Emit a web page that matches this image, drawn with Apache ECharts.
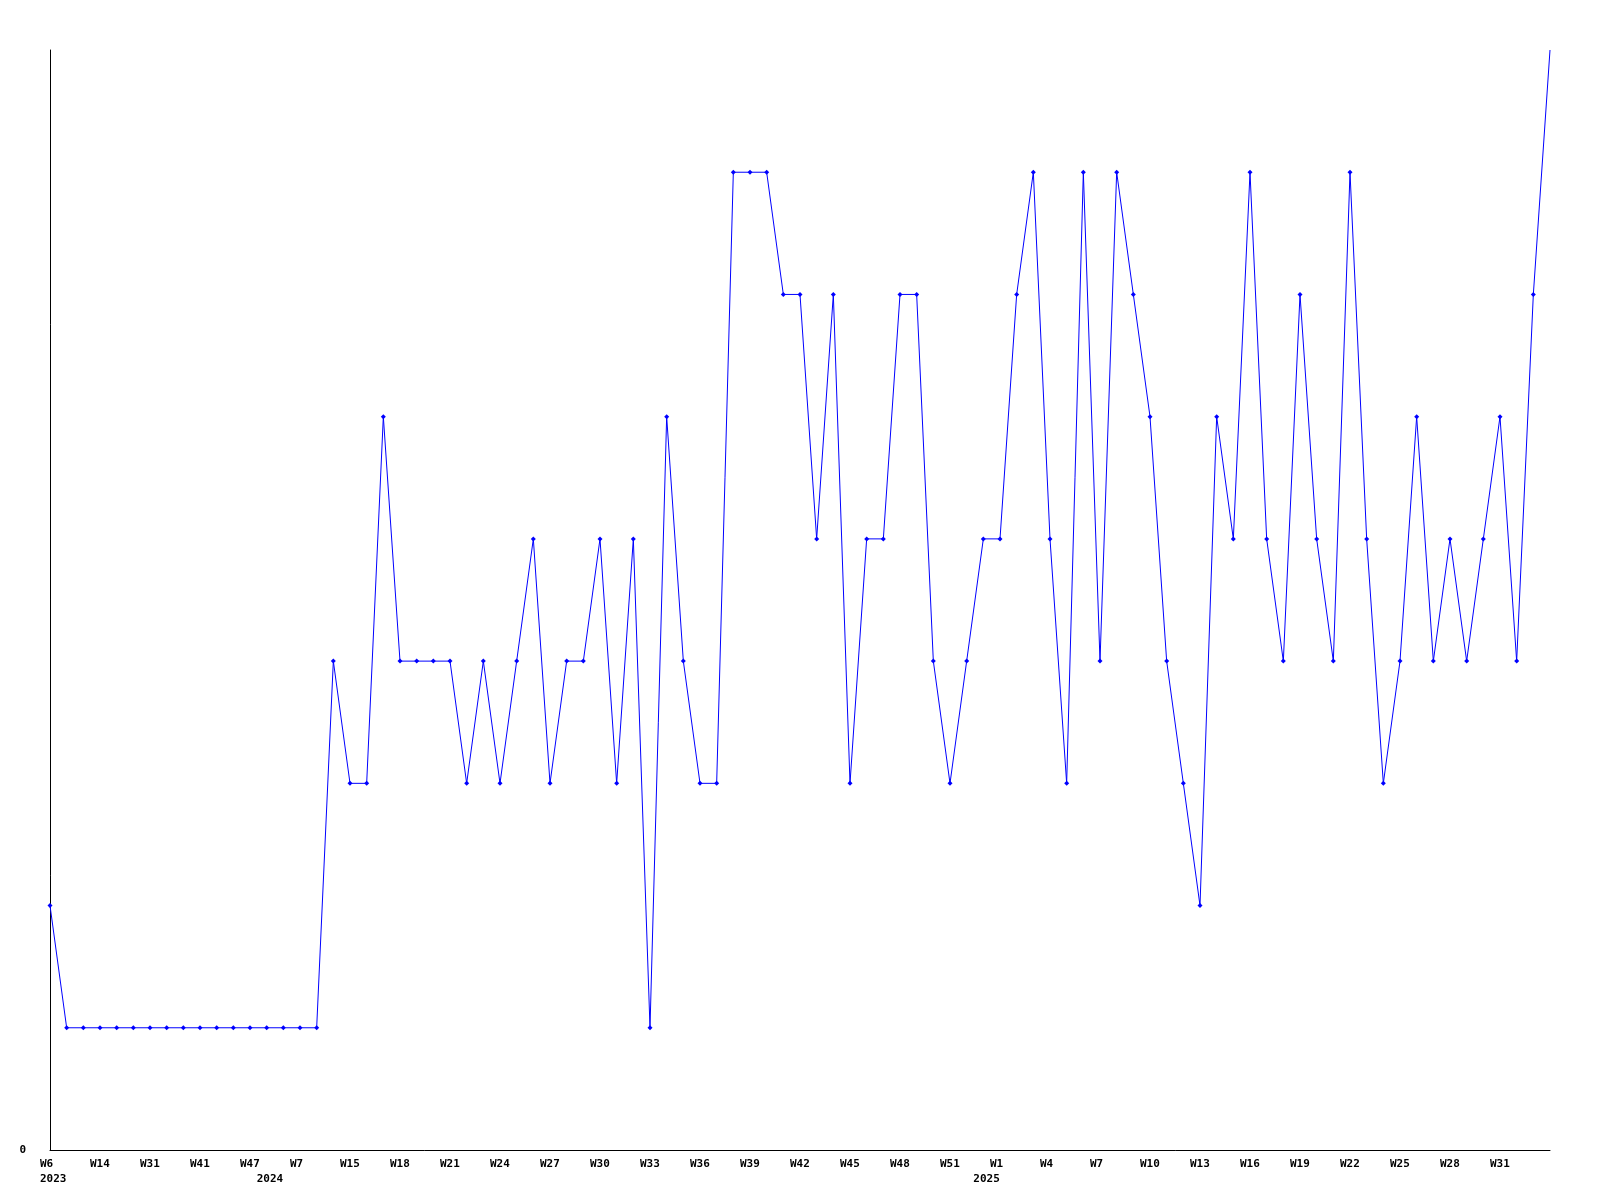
<!DOCTYPE html>
<html>
<head>
<meta charset="utf-8">
<script src="https://cdn.jsdelivr.net/npm/echarts@6/dist/echarts.min.js"></script>
<style>html,body{margin:0;padding:0;background:#fff;}#c{width:1600px;height:1200px;}</style>
</head>
<body>
<div id="c"></div>
<script>
// Series values (one per week point)
const values = [
  2, 1, 1, 1, 1, 1, 1, 1, 1, 1, 1, 1, 1, 1, 1, 1, 1,
  4, 3, 3, 6, 4, 4, 4, 4, 3, 4, 3, 4, 5, 3, 4, 4, 5, 3, 5, 1, 6, 4, 3, 3,
  8, 8, 8, 7, 7, 5, 7, 3, 5, 5, 7, 7, 4, 3, 4, 5, 5, 7, 8, 5, 3, 8, 4, 8,
  7, 6, 4, 3, 2, 6, 5, 8, 5, 4, 7, 5, 4, 8, 5, 3, 4, 6, 4, 5, 4, 5, 6, 4, 7, 9
];
// Week tick labels, shown every 3rd point
const weekLabels = ["W6","W14","W31","W41","W47","W7","W15","W18","W21","W24","W27","W30",
  "W33","W36","W39","W42","W45","W48","W51","W1","W4","W7","W10","W13","W16","W19",
  "W22","W25","W28","W31"];
// Year labels and the point index they sit under
const yearLabels = ["2023","2024","2025"];
const yearIndex = [0, 13, 56];

const n = values.length;
const cats = values.map((v, i) => String(i));
const labelCats = values.map((v, i) => {
  const w = (i % 3 === 0 && weekLabels[i / 3] !== undefined) ? weekLabels[i / 3] : "";
  const yi = yearIndex.indexOf(i);
  const y = yi >= 0 ? yearLabels[yi] : "";
  return y ? (w + "\n" + y) : w;
});
// last point's marker is clipped at the top edge in the original
const seriesData = values.map((v, i) => (i === n - 1 ? {value: v, symbol: "none"} : v));

const font = {fontFamily: "DejaVu Sans Mono", fontWeight: "bold", fontSize: 11, color: "#000"};

const chart = echarts.init(document.getElementById('c'), null, {renderer: 'canvas'});
chart.setOption({
  animation: false,
  backgroundColor: "#fff",
  grid: [
    {left: 50, right: 50, top: 50, bottom: 50},
    {left: 40, right: 60, top: 50, bottom: 50}
  ],
  xAxis: [
    {
      type: "category", gridIndex: 0, data: cats, boundaryGap: false,
      axisLine: {show: true, lineStyle: {color: "#000", width: 1}},
      axisTick: {show: false}, axisLabel: {show: false}, splitLine: {show: false}
    },
    {
      type: "category", gridIndex: 1, data: labelCats, boundaryGap: false,
      axisLine: {show: false}, axisTick: {show: false}, splitLine: {show: false},
      axisLabel: Object.assign({interval: 0, align: "left", margin: 7, lineHeight: 14.5, verticalAlign: "top"}, font)
    }
  ],
  yAxis: [
    {
      type: "value", gridIndex: 0, min: 0, max: 9, interval: 9,
      axisLine: {show: true, lineStyle: {color: "#000", width: 1}},
      axisTick: {show: false}, splitLine: {show: false},
      axisLabel: Object.assign({margin: 24, showMaxLabel: false,
        formatter: v => (v === 0 ? "0" : "")}, font)
    },
    {type: "value", gridIndex: 1, min: 0, max: 9, show: false}
  ],
  series: [{
    type: "line", xAxisIndex: 0, yAxisIndex: 0, data: seriesData,
    symbol: "diamond", symbolSize: 5, showSymbol: true,
    lineStyle: {color: "#0000ff", width: 1},
    itemStyle: {color: "#0000ff"}
  }]
});
</script>
</body>
</html>
